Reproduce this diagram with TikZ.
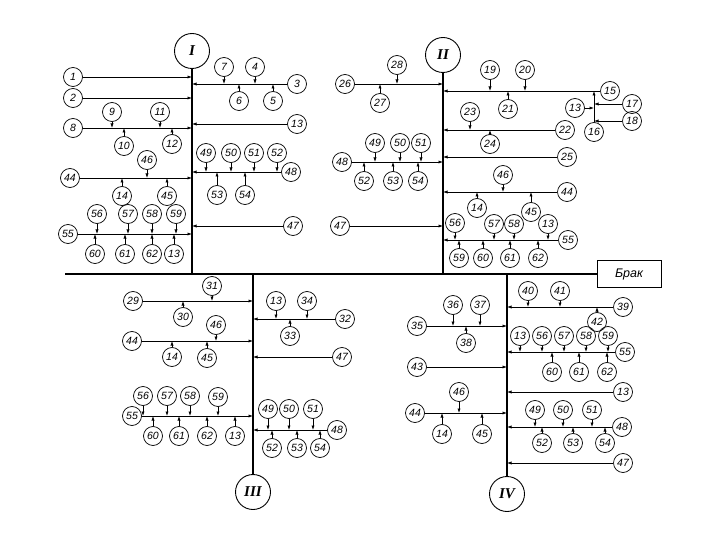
\documentclass[tikz,border=0pt]{standalone}
\usepackage{fontspec}
\setmainfont{Liberation Sans}
\newfontfamily\romfont{Liberation Serif}
\usetikzlibrary{arrows.meta,positioning,calc}

\begin{document}
\begin{tikzpicture}[
  x=1pt, y=-1pt,
  num/.style={draw,circle,line width=0.7pt,inner sep=0pt,minimum size=19pt,font=\fontsize{10.5}{11}\selectfont\itshape},
  big/.style={draw,circle,line width=0.9pt,inner sep=0pt,minimum size=35pt,font=\fontsize{15}{17}\selectfont\romfont\bfseries\itshape},
  brakbox/.style={draw,line width=0.9pt,minimum width=64pt,minimum height=27pt,font=\fontsize{12.5}{14}\selectfont\itshape},
  feed/.style={-{Latex[length=4.5pt,width=3.2pt]},line width=0.75pt},
  bus/.style={line width=1.7pt}
]
  \useasboundingbox (0,0) rectangle (720,540);

  \node[big] (I) at (192,51) {I};
  \node[big] (II) at (443,55) {II};
  \node[big] (III) at (253,492) {III};
  \node[big] (IV) at (507,494) {IV};
  \coordinate (busL) at (65,274);
  \node[brakbox] (brak) at (629,274) {Брак};

  \draw[bus] (busL) -- (busL -| brak.west);
  \draw[bus] (I) -- (I |- busL);
  \draw[bus] (II) -- (II |- busL);
  \draw[bus] (III |- busL) -- (III);
  \draw[bus] (IV |- busL) -- (IV);

  \node[num] (a1) at (73,77) {1};   \draw[feed] (a1) -- (a1 -| I);
  \node[num] (a2) at (73,98) {2};   \draw[feed] (a2) -- (a2 -| I);
  \node[num] (a8) at (73,128) {8};  \draw[feed] (a8) -- (a8 -| I);
  \node[num] (a9) at (112,112) {9};   \draw[feed] (a9) -- (a9 |- a8);
  \node[num] (a11) at (160,112) {11}; \draw[feed] (a11) -- (a11 |- a8);
  \node[num] (a10) at (124,146) {10}; \draw[feed] (a10) -- (a10 |- a8);
  \node[num] (a12) at (172,144) {12}; \draw[feed] (a12) -- (a12 |- a8);
  \node[num] (a44) at (70,178) {44};  \draw[feed] (a44) -- (a44 -| I);
  \node[num] (a46) at (147,160) {46}; \draw[feed] (a46) -- (a46 |- a44);
  \node[num] (a14) at (122,196) {14}; \draw[feed] (a14) -- (a14 |- a44);
  \node[num] (a45) at (167,196) {45}; \draw[feed] (a45) -- (a45 |- a44);
  \node[num] (a55) at (68,234) {55};  \draw[feed] (a55) -- (a55 -| I);
  \node[num] (a56) at (97,214) {56};  \draw[feed] (a56) -- (a56 |- a55);
  \node[num] (a57) at (128,214) {57}; \draw[feed] (a57) -- (a57 |- a55);
  \node[num] (a58) at (152,214) {58}; \draw[feed] (a58) -- (a58 |- a55);
  \node[num] (a59) at (176,214) {59}; \draw[feed] (a59) -- (a59 |- a55);
  \node[num] (a60) at (95,254) {60};  \draw[feed] (a60) -- (a60 |- a55);
  \node[num] (a61) at (125,254) {61}; \draw[feed] (a61) -- (a61 |- a55);
  \node[num] (a62) at (152,254) {62}; \draw[feed] (a62) -- (a62 |- a55);
  \node[num] (a13x) at (174,254) {13}; \draw[feed] (a13x) -- (a13x |- a55);

  \node[num] (a3) at (297,84) {3};    \draw[feed] (a3) -- (a3 -| I);
  \node[num] (a7) at (224,67) {7};    \draw[feed] (a7) -- (a7 |- a3);
  \node[num] (a4) at (255,67) {4};    \draw[feed] (a4) -- (a4 |- a3);
  \node[num] (a6) at (239,101) {6};   \draw[feed] (a6) -- (a6 |- a3);
  \node[num] (a5) at (273,101) {5};   \draw[feed] (a5) -- (a5 |- a3);
  \node[num] (a13) at (297,124) {13}; \draw[feed] (a13) -- (a13 -| I);
  \node[num] (a48) at (291,172) {48}; \draw[feed] (a48) -- (a48 -| I);
  \node[num] (a49) at (206,153) {49}; \draw[feed] (a49) -- (a49 |- a48);
  \node[num] (a50) at (231,153) {50}; \draw[feed] (a50) -- (a50 |- a48);
  \node[num] (a51) at (254,153) {51}; \draw[feed] (a51) -- (a51 |- a48);
  \node[num] (a52) at (277,153) {52}; \draw[feed] (a52) -- (a52 |- a48);
  \node[num] (a53) at (217,195) {53}; \draw[feed] (a53) -- (a53 |- a48);
  \node[num] (a54) at (245,195) {54}; \draw[feed] (a54) -- (a54 |- a48);
  \node[num] (a47) at (293,226) {47}; \draw[feed] (a47) -- (a47 -| I);

  \node[num] (b26) at (345,84) {26};  \draw[feed] (b26) -- (b26 -| II);
  \node[num] (b28) at (397,65) {28};  \draw[feed] (b28) -- (b28 |- b26);
  \node[num] (b27) at (380,103) {27}; \draw[feed] (b27) -- (b27 |- b26);
  \node[num] (b48) at (342,162) {48}; \draw[feed] (b48) -- (b48 -| II);
  \node[num] (b49) at (375,143) {49}; \draw[feed] (b49) -- (b49 |- b48);
  \node[num] (b50) at (400,143) {50}; \draw[feed] (b50) -- (b50 |- b48);
  \node[num] (b51) at (421,143) {51}; \draw[feed] (b51) -- (b51 |- b48);
  \node[num] (b52) at (364,181) {52}; \draw[feed] (b52) -- (b52 |- b48);
  \node[num] (b53) at (393,181) {53}; \draw[feed] (b53) -- (b53 |- b48);
  \node[num] (b54) at (418,181) {54}; \draw[feed] (b54) -- (b54 |- b48);
  \node[num] (b47) at (340,226) {47}; \draw[feed] (b47) -- (b47 -| II);

  \node[num] (b15) at (610,91) {15};  \draw[feed] (b15) -- (b15 -| II);
  \node[num] (b19) at (490,70) {19};  \draw[feed] (b19) -- (b19 |- b15);
  \node[num] (b20) at (525,70) {20};  \draw[feed] (b20) -- (b20 |- b15);
  \node[num] (b21) at (508,109) {21}; \draw[feed] (b21) -- (b21 |- b15);
  \node[num] (b16) at (594,132) {16}; \draw[feed] (b16) -- (b16 |- b15);
  \node[num] (b13) at (575,108) {13}; \draw[feed] (b13) -- (b13 -| b16);
  \node[num] (b17) at (632,104) {17}; \draw[feed] (b17) -- (b17 -| b16);
  \node[num] (b18) at (632,121) {18}; \draw[feed] (b18) -- (b18 -| b16);
  \node[num] (b22) at (565,130) {22}; \draw[feed] (b22) -- (b22 -| II);
  \node[num] (b23) at (470,112) {23}; \draw[feed] (b23) -- (b23 |- b22);
  \node[num] (b24) at (490,144) {24}; \draw[feed] (b24) -- (b24 |- b22);
  \node[num] (b25) at (567,157) {25}; \draw[feed] (b25) -- (b25 -| II);
  \node[num] (b44) at (567,192) {44}; \draw[feed] (b44) -- (b44 -| II);
  \node[num] (b46) at (503,175) {46}; \draw[feed] (b46) -- (b46 |- b44);
  \node[num] (b14) at (477,208) {14}; \draw[feed] (b14) -- (b14 |- b44);
  \node[num] (b45) at (531,212) {45}; \draw[feed] (b45) -- (b45 |- b44);
  \node[num] (b55) at (568,240) {55}; \draw[feed] (b55) -- (b55 -| II);
  \node[num] (b56) at (455,223) {56}; \draw[feed] (b56) -- (b56 |- b55);
  \node[num] (b57) at (494,224) {57}; \draw[feed] (b57) -- (b57 |- b55);
  \node[num] (b58) at (514,224) {58}; \draw[feed] (b58) -- (b58 |- b55);
  \node[num] (b13x) at (548,224) {13}; \draw[feed] (b13x) -- (b13x |- b55);
  \node[num] (b59) at (459,258) {59}; \draw[feed] (b59) -- (b59 |- b55);
  \node[num] (b60) at (483,258) {60}; \draw[feed] (b60) -- (b60 |- b55);
  \node[num] (b61) at (510,258) {61}; \draw[feed] (b61) -- (b61 |- b55);
  \node[num] (b62) at (538,258) {62}; \draw[feed] (b62) -- (b62 |- b55);

  \node[num] (c29) at (133,301) {29}; \draw[feed] (c29) -- (c29 -| III);
  \node[num] (c31) at (212,286) {31}; \draw[feed] (c31) -- (c31 |- c29);
  \node[num] (c30) at (183,317) {30}; \draw[feed] (c30) -- (c30 |- c29);
  \node[num] (c44) at (132,341) {44}; \draw[feed] (c44) -- (c44 -| III);
  \node[num] (c46) at (216,325) {46}; \draw[feed] (c46) -- (c46 |- c44);
  \node[num] (c14) at (172,357) {14}; \draw[feed] (c14) -- (c14 |- c44);
  \node[num] (c45) at (207,358) {45}; \draw[feed] (c45) -- (c45 |- c44);
  \node[num] (c55) at (132,416) {55}; \draw[feed] (c55) -- (c55 -| III);
  \node[num] (c56) at (143,396) {56}; \draw[feed] (c56) -- (c56 |- c55);
  \node[num] (c57) at (167,396) {57}; \draw[feed] (c57) -- (c57 |- c55);
  \node[num] (c58) at (190,396) {58}; \draw[feed] (c58) -- (c58 |- c55);
  \node[num] (c59) at (218,397) {59}; \draw[feed] (c59) -- (c59 |- c55);
  \node[num] (c60) at (153,436) {60}; \draw[feed] (c60) -- (c60 |- c55);
  \node[num] (c61) at (179,436) {61}; \draw[feed] (c61) -- (c61 |- c55);
  \node[num] (c62) at (207,436) {62}; \draw[feed] (c62) -- (c62 |- c55);
  \node[num] (c13) at (235,436) {13}; \draw[feed] (c13) -- (c13 |- c55);

  \node[num] (c32) at (345,319) {32}; \draw[feed] (c32) -- (c32 -| III);
  \node[num] (c13x) at (276,301) {13}; \draw[feed] (c13x) -- (c13x |- c32);
  \node[num] (c34) at (307,301) {34}; \draw[feed] (c34) -- (c34 |- c32);
  \node[num] (c33) at (290,336) {33}; \draw[feed] (c33) -- (c33 |- c32);
  \node[num] (c47) at (342,357) {47}; \draw[feed] (c47) -- (c47 -| III);
  \node[num] (c48) at (337,430) {48}; \draw[feed] (c48) -- (c48 -| III);
  \node[num] (c49) at (268,409) {49}; \draw[feed] (c49) -- (c49 |- c48);
  \node[num] (c50) at (289,409) {50}; \draw[feed] (c50) -- (c50 |- c48);
  \node[num] (c51) at (313,409) {51}; \draw[feed] (c51) -- (c51 |- c48);
  \node[num] (c52) at (272,448) {52}; \draw[feed] (c52) -- (c52 |- c48);
  \node[num] (c53) at (297,448) {53}; \draw[feed] (c53) -- (c53 |- c48);
  \node[num] (c54) at (320,448) {54}; \draw[feed] (c54) -- (c54 |- c48);

  \node[num] (d35) at (417,326) {35}; \draw[feed] (d35) -- (d35 -| IV);
  \node[num] (d36) at (453,305) {36}; \draw[feed] (d36) -- (d36 |- d35);
  \node[num] (d37) at (480,305) {37}; \draw[feed] (d37) -- (d37 |- d35);
  \node[num] (d38) at (466,343) {38}; \draw[feed] (d38) -- (d38 |- d35);
  \node[num] (d43) at (417,367) {43}; \draw[feed] (d43) -- (d43 -| IV);
  \node[num] (d44) at (415,413) {44}; \draw[feed] (d44) -- (d44 -| IV);
  \node[num] (d46) at (459,392) {46}; \draw[feed] (d46) -- (d46 |- d44);
  \node[num] (d14) at (442,434) {14}; \draw[feed] (d14) -- (d14 |- d44);
  \node[num] (d45) at (482,434) {45}; \draw[feed] (d45) -- (d45 |- d44);

  \node[num] (d39) at (623,307) {39}; \draw[feed] (d39) -- (d39 -| IV);
  \node[num] (d40) at (528,291) {40}; \draw[feed] (d40) -- (d40 |- d39);
  \node[num] (d41) at (560,291) {41}; \draw[feed] (d41) -- (d41 |- d39);
  \node[num] (d42) at (597,322) {42}; \draw[feed] (d42) -- (d42 |- d39);
  \node[num] (d55) at (625,352) {55}; \draw[feed] (d55) -- (d55 -| IV);
  \node[num] (d13) at (520,336) {13}; \draw[feed] (d13) -- (d13 |- d55);
  \node[num] (d56) at (542,336) {56}; \draw[feed] (d56) -- (d56 |- d55);
  \node[num] (d57) at (564,336) {57}; \draw[feed] (d57) -- (d57 |- d55);
  \node[num] (d58) at (586,336) {58}; \draw[feed] (d58) -- (d58 |- d55);
  \node[num] (d59) at (608,336) {59}; \draw[feed] (d59) -- (d59 |- d55);
  \node[num] (d60) at (552,372) {60}; \draw[feed] (d60) -- (d60 |- d55);
  \node[num] (d61) at (579,372) {61}; \draw[feed] (d61) -- (d61 |- d55);
  \node[num] (d62) at (607,372) {62}; \draw[feed] (d62) -- (d62 |- d55);
  \node[num] (d13x) at (623,392) {13}; \draw[feed] (d13x) -- (d13x -| IV);
  \node[num] (d48) at (622,427) {48}; \draw[feed] (d48) -- (d48 -| IV);
  \node[num] (d49) at (535,410) {49}; \draw[feed] (d49) -- (d49 |- d48);
  \node[num] (d50) at (563,410) {50}; \draw[feed] (d50) -- (d50 |- d48);
  \node[num] (d51) at (592,410) {51}; \draw[feed] (d51) -- (d51 |- d48);
  \node[num] (d52) at (542,443) {52}; \draw[feed] (d52) -- (d52 |- d48);
  \node[num] (d53) at (573,443) {53}; \draw[feed] (d53) -- (d53 |- d48);
  \node[num] (d54) at (605,443) {54}; \draw[feed] (d54) -- (d54 |- d48);
  \node[num] (d47) at (623,463) {47}; \draw[feed] (d47) -- (d47 -| IV);
\end{tikzpicture}
\end{document}
